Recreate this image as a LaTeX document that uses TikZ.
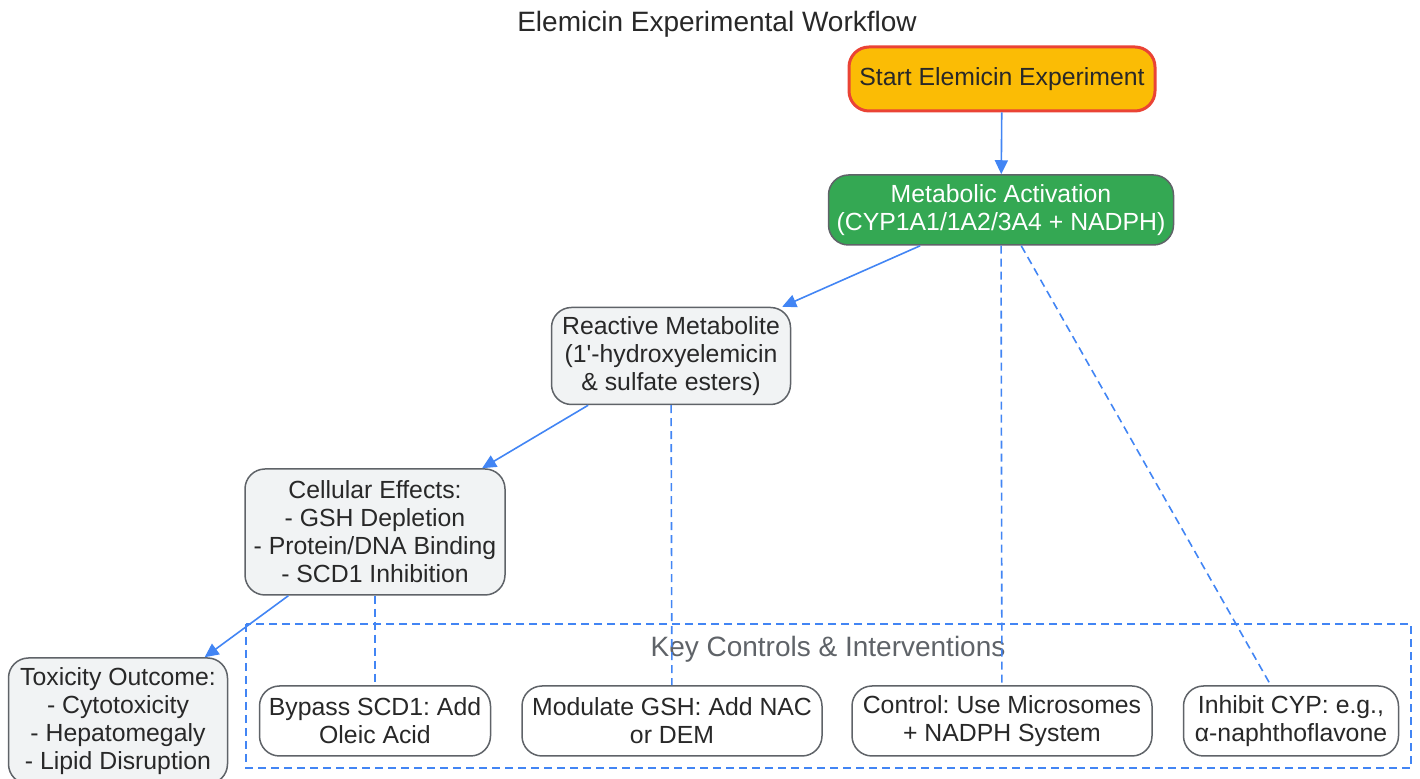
\documentclass[tikz,border=0pt]{standalone}
\usepackage[RGB]{xcolor}
\usepackage{fontspec}
\setmainfont{Liberation Sans}
\usetikzlibrary{arrows.meta}
\frenchspacing
\definecolor{S}{RGB}{251,188,5}
\definecolor{R}{RGB}{234,67,53}
\definecolor{G}{RGB}{52,168,83}
\definecolor{E}{RGB}{95,99,104}
\definecolor{B}{RGB}{66,133,244}
\definecolor{P}{RGB}{241,243,244}
\definecolor{T}{RGB}{40,40,40}
\newcommand{\drawflow}{\draw[flow]}
\newcommand{\drawlink}{\draw[link]}
\tikzset{
  box/.style={draw=E, line width=0.75pt, rounded corners=10pt, align=center, text=T,
    inner sep=0pt, font=\fontsize{12.4}{14}\selectfont},
  stepgrey/.style={box, fill=P},
  stepwhite/.style={box, fill=white},
  flow/.style={B, line width=0.8pt, -{Triangle[length=7pt,width=6.5pt]}},
  link/.style={B, line width=0.8pt, dash pattern=on 4pt off 2.5pt},
}
\begin{document}
\begin{tikzpicture}[x=0.5pt,y=-0.5pt]
\useasboundingbox (0,0) rectangle (1420,779);
\node[font=\fontsize{14}{16}\selectfont, text=T] (title) at (717,24) {Elemicin Experimental Workflow};
% controls group
\draw[link] (246,624) rectangle (1411,768);
\node[font=\fontsize{14}{16}\selectfont, text=E] (keylabel) at (828,649) {Key Controls \& Interventions};
% main chain
\node[box, fill=S, draw=R, line width=1.5pt, minimum width=153pt, minimum height=32pt] (start) at (1002,79) {Start Elemicin Experiment};
\node[box, fill=G, text=white, minimum width=172.5pt, minimum height=35pt] (metab) at (1001,210) {Metabolic Activation\\(CYP1A1/1A2/3A4 + NADPH)};
\node[stepgrey, minimum width=119.5pt, minimum height=48.5pt] (reactive) at (671,356) {Reactive Metabolite\\(1\textquotesingle-hydroxyelemicin\\\& sulfate esters)};
\node[stepgrey, minimum width=130pt, minimum height=63pt] (cellular) at (375,532) {Cellular Effects:\\- GSH Depletion\\- Protein/DNA Binding\\- SCD1 Inhibition};
\node[stepgrey, minimum width=109.5pt, minimum height=63pt] (toxicity) at (118,721) {Toxicity Outcome:\\- Cytotoxicity\\- Hepatomegaly\\- Lipid Disruption};
% interventions
\node[stepwhite, minimum width=115.5pt, minimum height=35pt] (bypass) at (375,721) {Bypass SCD1: Add\\Oleic Acid};
\node[stepwhite, minimum width=150pt, minimum height=35pt] (modulate) at (672,721) {Modulate GSH: Add NAC\\or DEM};
\node[stepwhite, minimum width=150pt, minimum height=35pt] (control) at (1002,721) {Control: Use Microsomes\\+ NADPH System};
\node[stepwhite, minimum width=107.5pt, minimum height=35pt] (inhibit) at (1291,721) {Inhibit CYP: e.g.,\\α-naphthoflavone};
\drawflow (start) -- (metab);
\drawflow (metab) -- (reactive);
\drawflow (reactive) -- (cellular);
\drawflow (cellular) -- (toxicity);
\drawlink (cellular) -- (bypass);
\drawlink (reactive) -- (modulate);
\drawlink (metab) -- (control);
\drawlink (metab) -- (inhibit);
\end{tikzpicture}
\end{document}
